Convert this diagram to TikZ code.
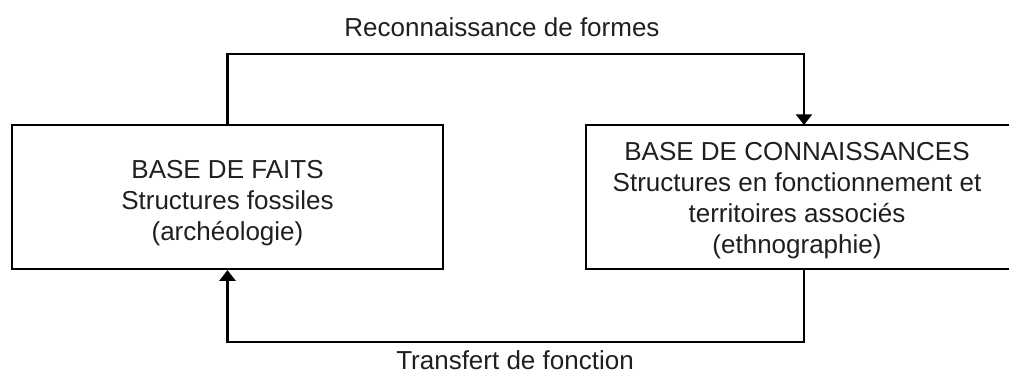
\documentclass[tikz,border=0pt]{standalone}
\usepackage{fontspec}
\setmainfont{Liberation Sans}
\usetikzlibrary{arrows.meta}

\tikzset{
  basebox/.style={draw, line width=1.7pt, minimum height=108pt},
  boxtext/.style={align=center, text=black!88, font=\fontsize{19.5}{23.3}\selectfont},
  flow/.style={line width=1.7pt, -{Triangle[width=12pt,length=8pt]}}
}

\begin{document}
\begin{tikzpicture}[x=0.75pt, y=-0.75pt]
    \useasboundingbox (0,0) rectangle (1009,374);

    % Draw the two bases
    \node[basebox, minimum width=323.25pt] (lbox) at (227.5,197) {};
    \node[basebox, minimum width=319.5pt] (rbox) at (799,197) {};
    \node[boxtext] (ltext) at (227.5,203) {BASE DE FAITS\\Structures fossiles\\(archéologie)};
    \node[boxtext] (rtext) at (797,201) {BASE DE CONNAISSANCES\\Structures en fonctionnement et\\territoires associés\\(ethnographie)};

    % Ends of the connectors on the right base
    \coordinate (rin) at (804,125);
    \coordinate (rout) at (804,269);

    % Draw the two loops
    \draw[flow] (lbox.north) -- ++(0,-70) -| (rin);
    \draw[flow] (rout) -- ++(0,73) -| (lbox.south);

    % Add labels
    \node[boxtext] (toplabel) at (502,27) {Reconnaissance de formes};
    \node[boxtext] (botlabel) at (515,360) {Transfert de fonction};
\end{tikzpicture}
\end{document}
